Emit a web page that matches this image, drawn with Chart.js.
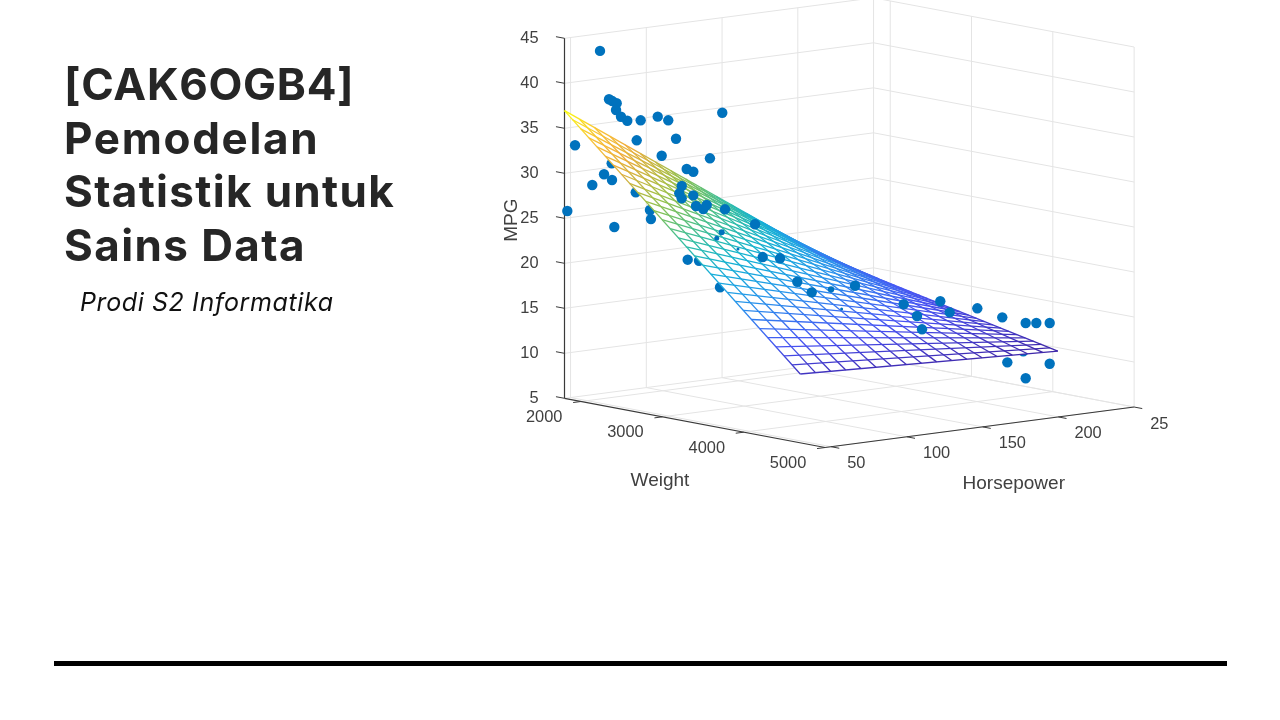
<!DOCTYPE html>
<html>
<head>
<meta charset="utf-8">
<script src="https://cdn.jsdelivr.net/npm/chart.js@4"></script>
<style>
html,body{margin:0;padding:0;background:#fff;width:1280px;height:720px;overflow:hidden}
#c{position:absolute;left:0;top:0}
#title{position:absolute;left:64px;top:58px;font:700 44px/53.5px Inter,"Noto Sans",sans-serif;color:#262626;white-space:nowrap}
#title div{height:53.5px}
#sub{position:absolute;left:80px;top:287px;font:italic 400 25px/30px Inter,"Noto Sans",sans-serif;letter-spacing:.6px;color:#111}
#rule{position:absolute;left:54px;top:661px;width:1173px;height:5px;background:#000}
</style>
</head>
<body>
<canvas id="c" width="1280" height="720"></canvas>
<div id="title"><div style="letter-spacing:.7px">[CAK6OGB4]</div><div style="letter-spacing:1.67px">Pemodelan</div><div style="letter-spacing:1.33px">Statistik untuk</div><div style="letter-spacing:1.4px">Sains Data</div></div>
<div id="sub">Prodi S2 Informatika</div>
<div id="rule"></div>
<script>
// ---------- axis content ----------
const weightTicks = [2000, 3000, 4000, 5000];
const hpTicks = [50, 100, 150, 200, 250];
const hpTickLabels = ['50', '100', '150', '200', '25'];
const mpgTicks = [5, 10, 15, 20, 25, 30, 35, 40, 45];
const weightLimits = [1795, 5000];
const hpLimits = [46, 250];

// ---------- fitted surface: grid lines and MPG along its four edges ----------
const gridWeight = [1795,1895,1995,2095,2195,2295,2395,2495,2595,2695,2795,2895,2995,3095,3195,3295,3395,3495,3595,3695,3795,3895,3995,4095,4195,4295,4395,4495,4595,4695];
const gridHp = [46,56,66,76,86,96,106,116,126,136,146,156,166,176,186,196,206,216];
const mpgAtLowHp = [36.96,36.12,35.28,34.45,33.61,32.77,31.93,31.09,30.25,29.42,28.58,27.74,26.90,26.06,25.22,24.39,23.55,22.71,21.87,21.03,20.19,19.36,18.52,17.68,16.84,16.00,15.16,14.33,13.49,12.65];
const mpgAtHighHp = [17.06,16.87,16.67,16.48,16.29,16.09,15.90,15.71,15.51,15.32,15.12,14.93,14.74,14.54,14.35,14.16,13.96,13.77,13.58,13.38,13.19,13.00,12.80,12.61,12.42,12.22,12.03,11.84,11.64,11.45];
const mpgAtLowWeight = [36.96,35.79,34.62,33.45,32.28,31.11,29.94,28.77,27.60,26.42,25.25,24.08,22.91,21.74,20.57,19.40,18.23,17.06];
const mpgAtHighWeight = [12.65,12.58,12.51,12.44,12.37,12.30,12.23,12.16,12.09,12.01,11.94,11.87,11.80,11.73,11.66,11.59,11.52,11.45];

// ---------- observations seen in front of / beside the surface ----------
const frontWeight = [2008,2063,2085,2120,2112,2136,2176,2266,2364,2419,2748,2236,2477,1850,2394,2671,2534,2578,2039,2081,1969,2510,2499,2510,2578,2593,2645,2650,2763,2946,1811,2318,2091,3003,3104,2546,3205,3289,3561,3861,4069,3932,4129,3975,4301,4459,4598,4654,4744,4484,4744,4598];
const frontHp = [58,61,62,63,63,65,67,71,77,81,99,70,83,50,78,95,87,89,59,62,55,85,84,85,89,90,92,94,100,110,47,75,63,112,118,87,124,129,143,159,172,164,175,165,184,192,200,204,208,194,208,200];
const frontMpg = [43.7,38.35,38.17,37.96,37.2,36.45,36.03,36.14,36.58,36.18,37.19,33.89,34.19,33.12,32.27,32.08,30.83,30.56,30.02,29.39,28.8,28.95,28.14,27.58,27.94,26.76,26.47,26.88,26.46,24.89,25.82,25.17,24.16,21.3,21.2,20.78,18.64,17.49,18.38,16.48,16.88,15.19,15.69,13.76,16.23,15.32,14.75,14.76,14.82,10.32,10.3,8.61];

// ---------- observations partly hidden behind the surface ----------
const backWeight = [2077,2224,2306,2611,2739,4587];
const backHp = [62,70,75,91,98,199];
const backMpg = [31.24,28.09,26.15,20.69,17.8,11.6];

// ---------- observations that only peek through the mesh ----------
const peekWeight = [2741,2717,2848,3415,3471];
const peekHp = [99,97,104,135,139];
const peekMpg = [23.89,23.23,22.11,17.91,15.73];
const peekRadius = [3,2.5,1.5,3.2,1.5];

// ---------- view (orthographic projection of the MATLAB 3-D view) ----------
const viewXperW = 0.0813, viewXperH = 1.515, viewYperW = 0.01535 / 9.0, viewYperH = 0.1985 / 9.0;
function P(w, h, z) {
  const dw = w - weightLimits[0], dh = h - hpLimits[0];
  return { x: viewXperW * dw + viewXperH * dh, y: z - viewYperW * dw + viewYperH * dh };
}

const GRID = '#e4e4e4', AXIS = '#3a3a3a', TEXT = '#404040';
const [WMIN, WMAX] = weightLimits, [HMIN, HMAX] = hpLimits;
const Z0 = mpgTicks[0], Z1 = mpgTicks[mpgTicks.length - 1];

function line(a, b, color, width) {
  return { data: [a, b], borderColor: color, borderWidth: width, pointRadius: 0, showLine: true, tension: 0, fill: false };
}
const PARULA = [[0,62,38,168],[0.14,72,82,244],[0.3,39,150,235],[0.42,18,177,214],[0.52,50,190,160],[0.65,150,195,70],[0.8,240,170,60],[0.92,250,200,50],[1,249,251,14]];
function parula(t) {
  t = Math.max(0, Math.min(1, t));
  for (let i = 1; i < PARULA.length; i++) {
    if (t <= PARULA[i][0]) {
      const a = PARULA[i-1], b = PARULA[i], f = (t - a[0]) / (b[0] - a[0]);
      return 'rgb(' + [1,2,3].map(k => Math.round(a[k] + (b[k]-a[k]) * f)).join(',') + ')';
    }
  }
  return 'rgb(249,251,14)';
}
const allMesh = mpgAtLowHp.concat(mpgAtHighHp);
const zMin = Math.min(...allMesh), zMax = Math.max(...allMesh);
function meshLine(a, za, b, zb) {
  return {
    data: [a, b], borderWidth: 1.3, pointRadius: 0, showLine: true, tension: 0, fill: false,
    borderColor(ctx) {
      const c = ctx.chart, sx = c.scales.x, sy = c.scales.y;
      if (!c.chartArea || !sx || !sy) return parula((za - zMin) / (zMax - zMin));
      const g = c.ctx.createLinearGradient(sx.getPixelForValue(a.x), sy.getPixelForValue(a.y), sx.getPixelForValue(b.x), sy.getPixelForValue(b.y));
      for (let k = 0; k <= 8; k++) g.addColorStop(k / 8, parula((za + (zb - za) * k / 8 - zMin) / (zMax - zMin)));
      return g;
    }
  };
}

const toPoints = (W, H, M) => W.map((w, i) => P(w, H[i], M[i]));
const datasets = [];
const DOT = '#0072BD';
// First dataset is painted last.
datasets.push({ data: toPoints(frontWeight, frontHp, frontMpg), backgroundColor: DOT, borderColor: DOT, pointRadius: 5.2, pointBorderWidth: 0, showLine: false });
datasets.push({ data: toPoints(peekWeight, peekHp, peekMpg), backgroundColor: DOT, borderColor: DOT, pointRadius: peekRadius, pointBorderWidth: 0, showLine: false });
gridWeight.forEach((w, i) => datasets.push(meshLine(P(w, gridHp[0], mpgAtLowHp[i]), mpgAtLowHp[i], P(w, gridHp[gridHp.length-1], mpgAtHighHp[i]), mpgAtHighHp[i])));
gridHp.forEach((h, i) => datasets.push(meshLine(P(gridWeight[0], h, mpgAtLowWeight[i]), mpgAtLowWeight[i], P(gridWeight[gridWeight.length-1], h, mpgAtHighWeight[i]), mpgAtHighWeight[i])));
// white faces of the mesh
const wLo = gridWeight[0], wHi = gridWeight[gridWeight.length-1], hLo = gridHp[0], hHi = gridHp[gridHp.length-1];
datasets.push({
  data: [P(wLo,hLo,mpgAtLowHp[0]), P(wHi,hLo,mpgAtLowHp[29]), P(wHi,hHi,mpgAtHighHp[29]), P(wLo,hHi,mpgAtHighHp[0]), P(wLo,hLo,mpgAtLowHp[0])],
  showLine: true, tension: 0, pointRadius: 0, borderWidth: 0, borderColor: '#fff', backgroundColor: '#fff', fill: 'shape'
});
datasets.push({ data: toPoints(backWeight, backHp, backMpg), backgroundColor: DOT, borderColor: DOT, pointRadius: 5.2, pointBorderWidth: 0, showLine: false });

// Axes and tick marks
datasets.push(line(P(WMIN,HMIN,Z0), P(WMIN,HMIN,Z1), AXIS, 1.2));
datasets.push(line(P(WMIN,HMIN,Z0), P(WMAX,HMIN,Z0), AXIS, 1.2));
datasets.push(line(P(WMAX,HMIN,Z0), P(WMAX,HMAX,Z0), AXIS, 1.2));
mpgTicks.forEach(z => datasets.push(line(P(WMIN,HMIN,z), P(WMIN-105,HMIN,z), AXIS, 1)));
weightTicks.forEach(w => datasets.push(line(P(w,HMIN,Z0), P(w,HMIN-5.3,Z0), AXIS, 1)));
hpTicks.forEach(h => datasets.push(line(P(WMAX,h,Z0), P(WMAX+100,h,Z0), AXIS, 1)));
// Grid on walls and floor
mpgTicks.forEach(z => {
  datasets.push(line(P(WMIN,HMIN,z), P(WMIN,HMAX,z), GRID, 1));
  datasets.push(line(P(WMIN,HMAX,z), P(WMAX,HMAX,z), GRID, 1));
});
weightTicks.forEach(w => {
  datasets.push(line(P(w,HMAX,Z0), P(w,HMAX,Z1), GRID, 1));
  datasets.push(line(P(w,HMIN,Z0), P(w,HMAX,Z0), GRID, 1));
});
hpTicks.forEach(h => {
  datasets.push(line(P(WMIN,h,Z0), P(WMIN,h,Z1), GRID, 1));
  datasets.push(line(P(WMIN,h,Z0), P(WMAX,h,Z0), GRID, 1));
});

const axisText = {
  id: 'axisText',
  afterDatasetsDraw(chart) {
    const c = chart.ctx, sx = chart.scales.x, sy = chart.scales.y;
    const px = p => [sx.getPixelForValue(p.x), sy.getPixelForValue(p.y)];
    c.save();
    c.fillStyle = TEXT;
    c.textBaseline = 'middle';
    c.font = '16.4px "Liberation Sans", Arial, sans-serif';
    c.textAlign = 'center';
    weightTicks.forEach(w => { const [x, y] = px(P(w,HMIN,Z0)); c.fillText(String(w), x - 37, y + 16); });
    c.textAlign = 'left';
    hpTicks.forEach((h, i) => { const [x, y] = px(P(WMAX,h,Z0)); c.fillText(hpTickLabels[i], x + 16, y + 17); });
    c.textAlign = 'center';
    c.font = '19px "Liberation Sans", Arial, sans-serif';
    let q = px(P(WMIN + 1150, HMIN, Z0));
    c.fillText('Weight', q[0] + 2, q[1] + 65);
    q = px(P(WMAX, HMIN + 112, Z0));
    c.fillText('Horsepower', q[0] + 19, q[1] + 58);
    const ax = sx.getPixelForValue(0);
    c.translate(ax - 53, sy.getPixelForValue(24.8));
    c.rotate(-Math.PI / 2);
    c.fillText('MPG', 0, 0);
    c.restore();
  }
};

new Chart(document.getElementById('c'), {
  type: 'scatter',
  data: { datasets },
  plugins: [axisText],
  options: {
    responsive: false,
    animation: false,
    events: [],
    clip: false,
    layout: { autoPadding: false, padding: { left: 490, top: 0, right: 0, bottom: 0 } },
    plugins: { legend: { display: false }, tooltip: { enabled: false }, title: { display: false } },
    scales: {
      x: { type: 'linear', display: false, min: 0, max: 715.5 },
      y: {
        type: 'linear', position: 'left', min: -30.74, max: 49.256,
        afterFit(s) { s.width = 74.5; s.paddingTop = 0; s.paddingBottom = 0; s.paddingLeft = 0; s.paddingRight = 0; },
        afterBuildTicks(s) { s.ticks = mpgTicks.map(v => ({ value: v })); },
        grid: { display: false },
        border: { display: false },
        ticks: { padding: 18, color: TEXT, autoSkip: false, font: { family: '"Liberation Sans", Arial, sans-serif', size: 16.4 } }
      }
    }
  }
});
</script>
</body>
</html>
